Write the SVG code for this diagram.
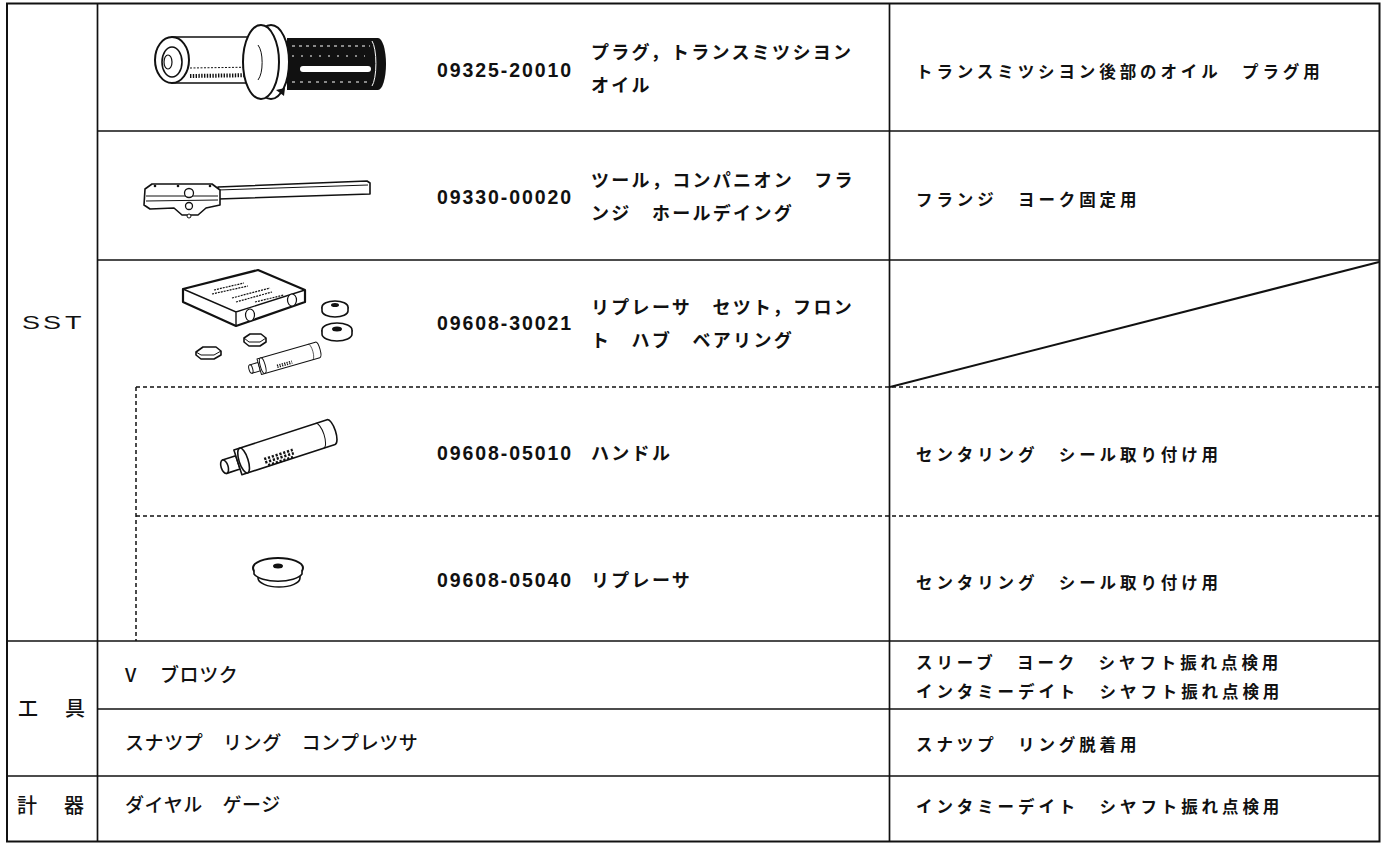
<svg xmlns="http://www.w3.org/2000/svg" width="1381" height="844" viewBox="0 0 1381 844">
<style>
.ln{stroke:#111;stroke-width:1.7;fill:none}
.dl{stroke:#111;stroke-width:1.5;fill:none;stroke-dasharray:4 3}
.num{font-family:"Liberation Sans",Arial,sans-serif;font-weight:bold;font-size:19.5px;fill:#111}
.nm{font-family:"Noto Sans CJK JP",sans-serif;font-weight:700;font-size:18px;letter-spacing:2.3px;fill:#111}
.pu{font-family:"Noto Sans CJK JP",sans-serif;font-weight:700;font-size:16.5px;letter-spacing:3.9px;fill:#111}
.c2{font-family:"Noto Sans CJK JP",sans-serif;font-weight:500;font-size:19px;letter-spacing:0.6px;fill:#111}
.cat{font-family:"Noto Sans CJK JP",sans-serif;font-weight:500;font-size:20px;fill:#111}
.dr{stroke:#111;stroke-width:1.6;fill:#fff;stroke-linejoin:round}
.dk{fill:#111;stroke:none}
.th{stroke:#111;stroke-width:1;fill:none}
</style>

<g id="table">
<rect x="7" y="3.5" width="1372.5" height="838" class="ln" style="stroke-width:2"/>
<line x1="97.5" y1="3" x2="97.5" y2="842" class="ln"/>
<line x1="889.5" y1="3" x2="889.5" y2="842" class="ln"/>
<line x1="97" y1="131" x2="1380" y2="131" class="ln"/>
<line x1="97" y1="260" x2="1380" y2="260" class="ln"/>
<line x1="136" y1="387" x2="1380" y2="387" class="dl"/>
<line x1="136" y1="516" x2="1380" y2="516" class="dl"/>
<line x1="136" y1="387" x2="136" y2="641" class="dl"/>
<line x1="7" y1="641" x2="1380" y2="641" class="ln"/>
<line x1="97" y1="709" x2="1380" y2="709" class="ln"/>
<line x1="7" y1="776" x2="1380" y2="776" class="ln"/>
<line x1="890" y1="387" x2="1379" y2="262" class="ln" style="stroke-width:2"/>
</g>

<g id="categories">
<text transform="translate(22,329) scale(1.5,1)" style="font-family:'Liberation Sans',Arial,sans-serif;font-size:18px;fill:#111"><tspan x="0">S</tspan><tspan x="14">S</tspan><tspan x="28.7">T</tspan></text>
<text x="18" y="716" class="cat" style="letter-spacing:3.5px">工　具</text>
<text x="17" y="813" class="cat" style="letter-spacing:3.5px">計　器</text>
</g>

<g id="row1">
<g id="plug">
<path d="M287 38 L378 38 A8 26 0 0 1 378 90 L287 90 Z" class="dk"/>
<path d="M303 66 L368 66 A3 3 0 0 1 368 72 L303 72 A3 3 0 0 1 303 66 Z" fill="#fff"/>
<path d="M292 46 L370 46" stroke="#fff" stroke-width="1.2" stroke-dasharray="3 4"/>
<path d="M292 56 L365 56" stroke="#fff" stroke-width="1" stroke-dasharray="2 7"/>
<path d="M292 82 L372 82" stroke="#fff" stroke-width="1" stroke-dasharray="3 5"/>
<path d="M372 41 A6 24 0 0 1 372 86" stroke="#fff" stroke-width="1" fill="none"/>
<path d="M172 37 L262 37 L262 83 L172 83 Z" class="dr"/>
<ellipse cx="172" cy="60" rx="17" ry="23" class="dr" style="stroke-width:2"/>
<ellipse cx="172" cy="62" rx="10" ry="15" class="dr"/>
<ellipse cx="168" cy="62" rx="4" ry="7" class="dr" style="stroke-width:1.2"/>
<path d="M190 68 L262 67" class="th" style="stroke-dasharray:2 1.5"/>
<path d="M190 76 L262 75" class="th" style="stroke-width:4;stroke-dasharray:1.4 1.4"/>
<ellipse cx="271" cy="62" rx="18" ry="37" class="dr" style="stroke-width:2"/>
<ellipse cx="261" cy="62" rx="18" ry="37" class="dr" style="stroke-width:2"/>
<path d="M258 45 A8 20 0 0 1 258 80" class="th"/>
<path d="M276 90 L285 88 L284 96 Z" class="dk"/>
</g>
<text x="437" y="77" class="num" textLength="134" lengthAdjust="spacing">09325-20010</text>
<text x="591" y="59" class="nm">プラグ，トランスミツシヨン</text>
<text x="591" y="92" class="nm">オイル</text>
<text x="916" y="78" class="pu">トランスミツシヨン後部のオイル　プラグ用</text>
</g>

<g id="row2">
<g id="holder">
<path d="M218 187 L367 181 L370 183 L370 194 L218 199 Z" class="dr"/>
<path d="M218 190 L368 185" class="th"/>
<path d="M145 189 L152 184 L212 184 L220 190 L220 205 L206 208 L198 215 L182 215 L174 208 L150 209 L144 205 Z" class="dr"/>
<path d="M146 196 L218 196 M146 201 L218 200" class="th"/>
<circle cx="189" cy="193" r="4.5" class="dr" style="stroke-width:1.3"/>
<circle cx="189" cy="206" r="3.5" class="dr" style="stroke-width:1.3"/>
<circle cx="189" cy="216" r="2" class="dr" style="stroke-width:1"/>
<circle cx="155" cy="186" r="1.3" class="dk"/>
<circle cx="178" cy="186" r="1.3" class="dk"/>
<circle cx="210" cy="186" r="1.3" class="dk"/>
</g>
<text x="437" y="204" class="num" textLength="134" lengthAdjust="spacing">09330-00020</text>
<text x="591" y="187" class="nm">ツール，コンパニオン　フラ</text>
<text x="591" y="220" class="nm">ンジ　ホールデイング</text>
<text x="916" y="206" class="pu">フランジ　ヨーク固定用</text>
</g>

<g id="row3">
<g id="set">
<path d="M183 289 L258 270 L305 290 L305 302 L236 326 L183 302 Z" class="dr" style="stroke-width:2.2"/>
<path d="M183 289 L236 312 L305 290 M236 312 L236 326" class="th" style="stroke-width:1.4"/>
<path d="M214 290 L244 283 M212 294 L248 286 M232 298 L270 288 M236 302 L272 292 M255 302 L284 295" class="th" style="stroke-width:1.2;stroke-dasharray:2 1"/>
<ellipse cx="250" cy="315" rx="4.5" ry="6" class="dr" style="stroke-width:1.2"/>
<ellipse cx="292" cy="300" rx="4.5" ry="6" class="dr" style="stroke-width:1.2"/>
<ellipse cx="335" cy="307" rx="13" ry="6" class="dr"/>
<path d="M322 307 L322 311 A13 6 0 0 0 348 311 L348 307" class="dr"/>
<ellipse cx="335" cy="305" rx="4" ry="2" class="dk"/>
<ellipse cx="337" cy="330" rx="15" ry="7" class="dr"/>
<path d="M322 330 L322 334 A15 7 0 0 0 352 334 L352 330" class="dr"/>
<ellipse cx="337" cy="329" rx="5" ry="2.5" class="dk"/>
<path d="M244 338 L250 334 L261 334 L266 338 L266 342 L260 346 L249 346 L244 342 Z" class="dr"/>
<path d="M244 338 L249 342 L260 342 L266 338" class="th"/>
<path d="M196 352 L203 347 L216 347 L221 351 L221 355 L214 359 L201 359 L196 355 Z" class="dr"/>
<path d="M196 352 L201 355 L214 355 L221 351" class="th"/>
<g transform="translate(258,367) rotate(-16) scale(0.62)">
<rect x="-12" y="-7" width="14" height="14" class="dr"/>
<ellipse cx="-12" cy="0" rx="3" ry="7" class="dr"/>
<path d="M2 -13 L100 -13 A4 13 0 0 1 100 13 L2 13 Z" class="dr"/>
<ellipse cx="8" cy="0" rx="4" ry="13" class="dr"/>
<path d="M88 -13 A4 13 0 0 1 88 13" class="th"/>
<path d="M30 6 L55 6 M30 9 L55 9" class="th" style="stroke-width:2.5;stroke-dasharray:2 2"/>
</g>
</g>
<text x="437" y="330" class="num" textLength="134" lengthAdjust="spacing">09608-30021</text>
<text x="591" y="314" class="nm">リプレーサ　セツト，フロン</text>
<text x="591" y="347" class="nm">ト　ハブ　ベアリング</text>
</g>

<g id="row4">
<g id="handle" transform="translate(236,463) rotate(-18)">
<rect x="-12" y="-7" width="14" height="14" class="dr"/>
<ellipse cx="-12" cy="0" rx="3.5" ry="7" class="dr"/>
<path d="M2 -13 L100 -13 A4.5 13 0 0 1 100 13 L2 13 Z" class="dr"/>
<ellipse cx="8" cy="0" rx="4.5" ry="13" class="dr"/>
<path d="M88 -13 A4.5 13 0 0 1 88 13" class="th"/>
<path d="M28 5 L58 5 M28 8.5 L58 8.5 M30 12 L56 12" class="th" style="stroke-width:2.6;stroke-dasharray:2.2 1.8"/>
</g>
<text x="437" y="460" class="num" textLength="134" lengthAdjust="spacing">09608-05010</text>
<text x="591" y="460" class="nm">ハンドル</text>
<text x="916" y="461" class="pu">センタリング　シール取り付け用</text>
</g>

<g id="row5">
<g id="replacer">
<path d="M258 570 L258 578 A21 9 0 0 0 300 578 L300 570" class="dr"/>
<ellipse cx="278" cy="568" rx="25" ry="10" class="dr" style="stroke-width:2"/>
<path d="M254 570 L254 574 A25 10 0 0 0 302 574 L302 570" class="dr"/>
<ellipse cx="278" cy="566" rx="5" ry="2.5" class="dk"/>
</g>
<text x="437" y="587" class="num" textLength="134" lengthAdjust="spacing">09608-05040</text>
<text x="591" y="587" class="nm">リプレーサ</text>
<text x="916" y="589" class="pu">センタリング　シール取り付け用</text>
</g>

<g id="row6">
<text x="125" y="682" class="c2"><tspan>V</tspan><tspan x="160">ブロツク</tspan></text>
<text x="916" y="669" class="pu">スリーブ　ヨーク　シヤフト振れ点検用</text>
<text x="916" y="698" class="pu">インタミーデイト　シヤフト振れ点検用</text>
</g>

<g id="row7">
<text x="125" y="750" class="c2">スナツプ　リング　コンプレツサ</text>
<text x="916" y="751" class="pu">スナツプ　リング脱着用</text>
</g>

<g id="row8">
<text x="125" y="812" class="c2">ダイヤル　ゲージ</text>
<text x="916" y="813" class="pu">インタミーデイト　シヤフト振れ点検用</text>
</g>
</svg>
